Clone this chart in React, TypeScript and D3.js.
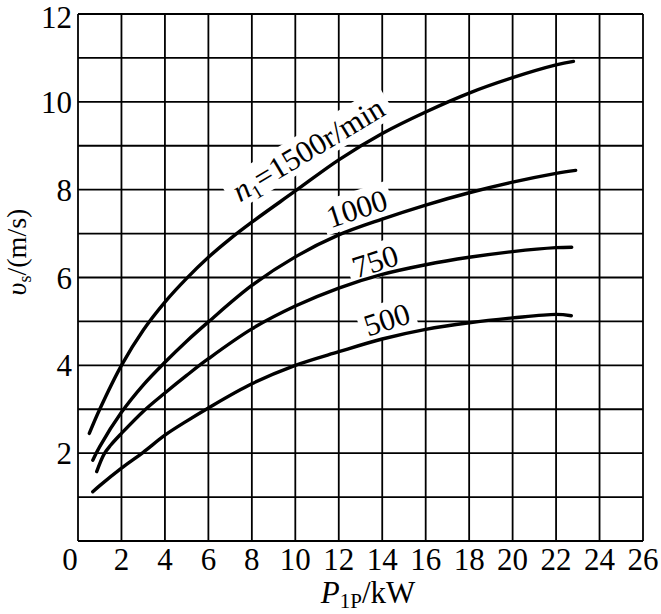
import React from "react";
import * as d3 from "d3";

// ---- data ----
const xTickValues = [0, 2, 4, 6, 8, 10, 12, 14, 16, 18, 20, 22, 24, 26];
const yGridValues = [0, 1, 2, 3, 4, 5, 6, 7, 8, 9, 10, 11, 12];
const yTickLabels = [2, 4, 6, 8, 10, 12];

const p1500 = [0.52, 1, 2, 3, 4, 5, 6, 7, 8, 10, 12, 14, 16, 18, 20, 22, 22.8];
const v1500 = [2.45, 3.0, 4.0, 4.8, 5.44, 5.98, 6.46, 6.88, 7.26, 7.97, 8.68, 9.28, 9.77, 10.2, 10.55, 10.84, 10.92];

const p1000 = [0.68, 1, 2, 3, 4, 5, 6, 8, 10, 12, 14, 16, 18, 20, 22, 22.9];
const v1000 = [1.84, 2.15, 2.93, 3.55, 4.07, 4.55, 4.99, 5.82, 6.47, 6.97, 7.33, 7.65, 7.93, 8.17, 8.37, 8.44];

const p750 = [0.86, 1.2, 1.5, 2, 3, 4, 5, 6, 8, 10, 12, 14, 16, 18, 20, 22, 22.72];
const v750 = [1.58, 1.98, 2.18, 2.45, 2.95, 3.37, 3.77, 4.15, 4.83, 5.35, 5.76, 6.07, 6.29, 6.46, 6.59, 6.68, 6.69];

const p500 = [0.68, 1, 2, 3, 4, 5, 6, 8, 10, 12, 14, 16, 18, 20, 22, 22.7];
const v500 = [1.12, 1.26, 1.66, 2.02, 2.41, 2.73, 3.03, 3.58, 4.0, 4.31, 4.6, 4.82, 4.97, 5.08, 5.16, 5.13];

const seriesNames = ["1500", "1000", "750", "500"];
// label anchors (data coords) and rotation angles
const labelX = [10.58, 12.82, 13.67, 14.21];
const labelY = [8.93, 7.58, 6.38, 5.05];
const labelRot = [-31, -18, -18, -18];

const W = 661;
const H = 614;
const FONT = "'Liberation Serif', 'Times New Roman', Times, serif";

export default function App() {
  const x = d3.scaleLinear().domain([0, 26]).range([78, 643]);
  const y = d3.scaleLinear().domain([0, 12]).range([541, 14]);

  const series = [
    { p: p1500, v: v1500 },
    { p: p1000, v: v1000 },
    { p: p750, v: v750 },
    { p: p500, v: v500 },
  ];

  const line = d3
    .line<[number, number]>()
    .x((d) => x(d[0]))
    .y((d) => y(d[1]))
    .curve(d3.curveCatmullRom.alpha(0.5));

  const fs = 31;
  const labelWidths = [176, 62, 47, 47];

  return (
    <svg
      width={W}
      height={H}
      viewBox={`0 0 ${W} ${H}`}
      style={{ position: "absolute", left: 0, top: 0, background: "#fff" }}
      fontFamily={FONT}
    >
      <rect x={0} y={0} width={W} height={H} fill="#fff" />
      {/* grid */}
      <g stroke="#000" strokeWidth={1.8}>
        {xTickValues.map((t) => (
          <line key={"vx" + t} x1={x(t)} x2={x(t)} y1={y(12)} y2={y(0)} />
        ))}
        {yGridValues.map((t) => (
          <line key={"hy" + t} x1={x(0)} x2={x(26)} y1={y(t)} y2={y(t)} />
        ))}
      </g>

      {/* label masks */}
      {seriesNames.map((n, i) => (
        <g
          key={"m" + n}
          transform={`translate(${x(labelX[i])},${y(labelY[i])}) rotate(${labelRot[i]})`}
        >
          <rect
            x={-labelWidths[i] / 2 - 5}
            y={-17}
            width={labelWidths[i] + 10}
            height={34}
            fill="#fff"
          />
        </g>
      ))}

      {/* curves */}
      <g fill="none" stroke="#000" strokeWidth={3.4} strokeLinecap="round">
        {series.map((s, i) => (
          <path
            key={"c" + i}
            d={line(s.p.map((p, j) => [p, s.v[j]] as [number, number])) || ""}
          />
        ))}
      </g>

      {/* curve labels */}
      {seriesNames.map((n, i) => (
        <g
          key={"l" + n}
          transform={`translate(${x(labelX[i])},${y(labelY[i])}) rotate(${labelRot[i]})`}
        >
          {i === 0 ? (
            <text x={0} y={11} textAnchor="middle" fontSize={fs} fill="#000">
              <tspan fontStyle="italic">n</tspan>
              <tspan fontSize={19} dy={6}>1</tspan>
              <tspan dy={-6}>=1500r/min</tspan>
            </text>
          ) : (
            <text x={0} y={11} textAnchor="middle" fontSize={fs} fill="#000">
              {n}
            </text>
          )}
        </g>
      ))}

      {/* x tick labels */}
      <g fontSize={fs} fill="#000" textAnchor="middle">
        {xTickValues.map((t) => (
          <text key={"xt" + t} x={x(t) + (t === 0 ? -8 : 0)} y={570}>
            {t}
          </text>
        ))}
      </g>
      {/* y tick labels */}
      <g fontSize={fs} fill="#000" textAnchor="end">
        {yTickLabels.map((t) => (
          <text key={"yt" + t} x={72} y={y(t) + (t === 12 ? 14 : 11)}>
            {t}
          </text>
        ))}
      </g>

      {/* axis titles */}
      <text x={368} y={603} textAnchor="middle" fontSize={fs} fill="#000">
        <tspan fontStyle="italic">P</tspan>
        <tspan fontSize={21} dy={5}>1P</tspan>
        <tspan dy={-5}>/kW</tspan>
      </text>
      <text
        transform="translate(26,252) rotate(-90)"
        textAnchor="middle"
        fontSize={28}
        fill="#000"
      >
        <tspan fontStyle="italic">υ</tspan>
        <tspan fontSize={18} dy={5}>s</tspan>
        <tspan dy={-5}>/(m/s)</tspan>
      </text>
    </svg>
  );
}
